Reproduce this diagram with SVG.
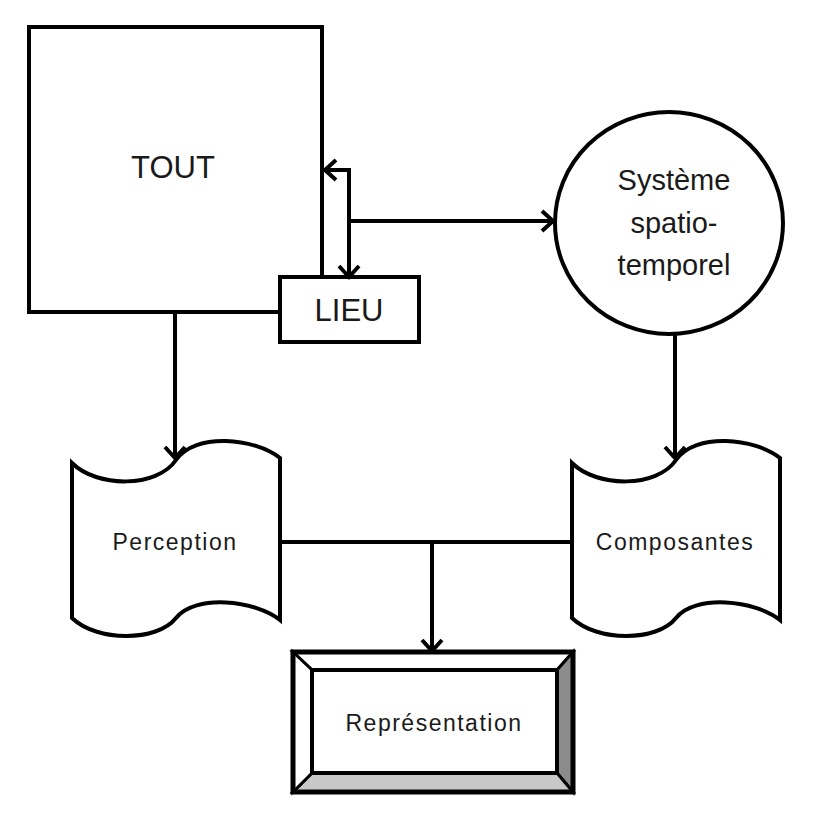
<svg xmlns="http://www.w3.org/2000/svg" width="823" height="827" viewBox="0 0 823 827">
<style>
.shape{fill:#fff;stroke:#000;stroke-width:4}
.conn{fill:none;stroke:#000;stroke-width:4}
.lbl{font-family:"Liberation Sans",Arial,sans-serif;fill:#1a1a1a;text-anchor:middle}
.big{font-size:31px}
.mid{font-size:29px}
.sm{font-size:23px;letter-spacing:1.5px}
</style>
<defs>
<marker id="chev" markerUnits="userSpaceOnUse" markerWidth="30" markerHeight="30" viewBox="-15 -15 30 30" refX="0" refY="0" orient="auto-start-reverse" overflow="visible">
<path d="M-11,-10 L0,0 L-11,10" fill="none" stroke="#000" stroke-width="4" stroke-linejoin="miter"/>
</marker>
</defs>
<rect width="823" height="827" fill="#fff"/>

<g id="tout">
<rect class="shape" x="29" y="27" width="293" height="285"/>
<text class="lbl big" x="173" y="178">TOUT</text>
</g>

<g id="lieu">
<rect class="shape" x="280" y="277" width="139" height="65"/>
<text class="lbl big" x="349" y="321">LIEU</text>
</g>

<g id="systeme">
<ellipse class="shape" cx="669" cy="223" rx="114" ry="111"/>
<text class="lbl mid" x="674" y="190">Système</text>
<text class="lbl mid" x="674" y="233">spatio-</text>
<text class="lbl mid" x="674" y="275">temporel</text>
</g>

<g id="perception">
<path class="shape" d="M72,463 C97,488 157,488 176,460 C195,432 255,438 280,458 L280,620 C255,600 195,594 176,618 C157,642 97,642 72,618 Z"/>
<text class="lbl sm" x="175" y="550">Perception</text>
</g>

<g id="composantes">
<path class="shape" d="M572,463 C597,488 657,488 676,460 C695,432 755,438 780,458 L780,620 C755,600 695,594 676,618 C657,642 597,642 572,618 Z"/>
<text class="lbl sm" x="675" y="550">Composantes</text>
</g>

<g id="representation">
<polygon points="293,652 573,652 557,670 312,670" fill="#fff" stroke="#000" stroke-width="3"/>
<polygon points="573,652 573,792 557,773 557,670" fill="#8c8c8c" stroke="#000" stroke-width="3"/>
<polygon points="293,792 573,792 557,773 312,773" fill="#c8c8c8" stroke="#000" stroke-width="3"/>
<polygon points="293,652 312,670 312,773 293,792" fill="#fff" stroke="#000" stroke-width="3"/>
<rect x="293" y="652" width="280" height="140" fill="none" stroke="#000" stroke-width="5"/>
<rect x="312" y="670" width="245" height="103" fill="#fff" stroke="#000" stroke-width="4"/>
<text class="lbl sm" x="434" y="731">Représentation</text>
</g>

<g id="connectors">
<path class="conn" d="M175,312 V458" marker-end="url(#chev)"/>
<path class="conn" d="M325,170 H349 V277" marker-start="url(#chev)" marker-end="url(#chev)"/>
<path class="conn" d="M349,221 H553" marker-end="url(#chev)"/>
<path class="conn" d="M675,334 V458" marker-end="url(#chev)"/>
<path class="conn" d="M280,542 H572"/>
<path class="conn" d="M432,542 V651" marker-end="url(#chev)"/>
</g>
</svg>
